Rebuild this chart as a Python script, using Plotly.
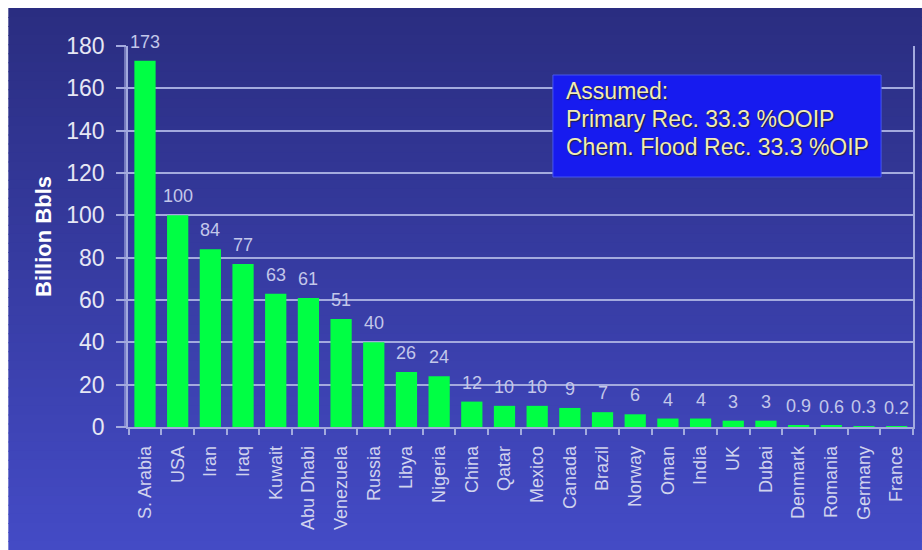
import plotly.graph_objects as go

# Recoverable oil by country (billion barrels)
countries = ["S. Arabia", "USA", "Iran", "Iraq", "Kuwait", "Abu Dhabi", "Venezuela",
             "Russia", "Libya", "Nigeria", "China", "Qatar", "Mexico", "Canada",
             "Brazil", "Norway", "Oman", "India", "UK", "Dubai", "Denmark",
             "Romania", "Germany", "France"]
reserves = [173, 100, 84, 77, 63, 61, 51, 40, 26, 24, 12, 10, 10, 9, 7, 6, 4, 4,
            3, 3, 0.9, 0.6, 0.3, 0.2]
value_labels = ["173", "100", "84", "77", "63", "61", "51", "40", "26", "24", "12",
                "10", "10", "9", "7", "6", "4", "4", "3", "3", "0.9", "0.6", "0.3", "0.2"]
y_ticks = [0, 20, 40, 60, 80, 100, 120, 140, 160, 180]

note_lines = ["Assumed:", "Primary Rec. 33.3 %OOIP", "Chem. Flood Rec. 33.3 %OIP"]

W, H = 922, 550
L, R, T, B = 128, 7, 46, 123
PW, PH = W - L - R, H - T - B
FONT = "Arial, Liberation Sans, sans-serif"
GRID = "#a3aade"


def px_x(px):
    return (px - L) / PW


def px_y(py):
    return (H - B - py) / PH


def mix(c1, c2, t):
    a = [int(c1[i:i + 2], 16) for i in (1, 3, 5)]
    b = [int(c2[i:i + 2], 16) for i in (1, 3, 5)]
    return "#" + "".join(f"{round(a[k] + (b[k] - a[k]) * t):02x}" for k in range(3))


shapes = []
# vertical gradient slide background, inset from the top/left edge
top_c, bot_c = "#2a2d80", "#444bc6"
n_strips = 60
y0_px, y1_px = 8, H
for i in range(n_strips):
    a = y0_px + (y1_px - y0_px) * i / n_strips
    b = y0_px + (y1_px - y0_px) * (i + 1) / n_strips + 1
    shapes.append(dict(type="rect", xref="paper", yref="paper", layer="below",
                       x0=px_x(8), x1=px_x(W + 2), y0=px_y(b), y1=px_y(a),
                       line=dict(width=0),
                       fillcolor=mix(top_c, bot_c, (i + 0.5) / n_strips)))

# second (inner) vertical line of the value axis
shapes.append(dict(type="line", xref="paper", yref="paper", layer="above",
                   x0=px_x(L - 3), x1=px_x(L - 3), y0=0, y1=1,
                   line=dict(color=GRID, width=1.2)))

# note box
shapes.append(dict(type="rect", xref="paper", yref="paper", layer="above",
                   x0=px_x(554), x1=px_x(883), y0=px_y(177), y1=px_y(75),
                   fillcolor="#171bef", line=dict(color="#4757ee", width=1)))

fig = go.Figure(go.Bar(
    x=countries, y=reserves,
    marker=dict(color="#00ff44", line=dict(width=0)),
    hovertemplate="%{x}: %{y}<extra></extra>",
))

annotations = []
for c, v, lab in zip(countries, reserves, value_labels):
    annotations.append(dict(x=c, y=v, xref="x", yref="y", text=lab, showarrow=False,
                            yanchor="bottom", yshift=7,
                            font=dict(family=FONT, size=18, color="#c3c7ea")))

for i, line in enumerate(note_lines):
    annotations.append(dict(x=px_x(565), y=px_y(91 + 28 * i), xref="paper", yref="paper",
                            xanchor="left", yanchor="middle", showarrow=False, text=line,
                            font=dict(family=FONT, size=23, color="#f1ecb6",
                                      shadow="1px 1px 1px #202040")))

fig.update_layout(
    width=W, height=H, autosize=False,
    margin=dict(l=L, r=R, t=T, b=B, pad=0),
    paper_bgcolor="#ffffff", plot_bgcolor="rgba(0,0,0,0)",
    bargap=0.35, showlegend=False,
    shapes=shapes, annotations=annotations,
    font=dict(family=FONT),
)

fig.update_xaxes(
    type="category", tickangle=-90, tickson="boundaries",
    ticks="outside", ticklen=6, tickcolor=GRID, tickwidth=1.5,
    showline=True, linecolor=GRID, linewidth=1.5,
    showgrid=False, ticklabelstandoff=10,
    tickfont=dict(family=FONT, size=18, color="#d0d3ee"),
)

fig.update_yaxes(
    range=[0, 180], tickvals=y_ticks,
    ticks="outside", ticklen=10, tickcolor=GRID, tickwidth=1.5,
    showline=True, linecolor=GRID, linewidth=1.5, mirror=True,
    showgrid=True, gridcolor=GRID, gridwidth=1.5, zeroline=False,
    ticklabelstandoff=7,
    tickfont=dict(family=FONT, size=23, color="#e6e7f4"),
    title=dict(text="<b>Billion Bbls</b>", standoff=9,
               font=dict(family=FONT, size=22, color="#ffffff")),
)

fig.write_html("out.html")
